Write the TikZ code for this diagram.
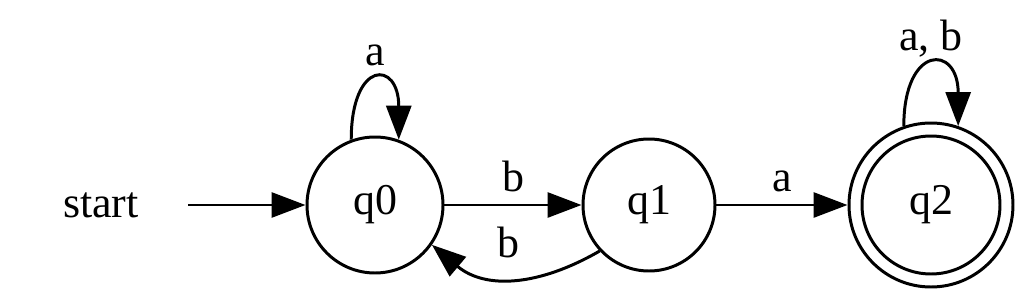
\documentclass[tikz,border=0pt]{standalone}
\usepackage{fontspec}
\setmainfont{Liberation Serif}
\usetikzlibrary{arrows.meta,positioning}

\begin{document}
\begin{tikzpicture}[
  every node/.style={font=\fontsize{25}{30}\selectfont},
  state/.style={circle,draw,line width=1.7pt,minimum size=2.72cm,inner sep=0pt},
  trans/.style={line width=1.7pt,-{Triangle[length=0.68cm,width=0.5cm]}},
  lbl/.style={anchor=base,yshift=0.28cm}
]
\useasboundingbox (0,0) rectangle (20.48,5.94);
\node (start) at (2.02,1.84) {start};
\coordinate (entry) at (3.76,1.84);
\node[state] (q0) at (7.5,1.84) {q0};
\node[state,minimum size=2.64cm] (q1) at (12.98,1.84) {q1};
\node[state,minimum size=3.28cm] (q2) at (18.62,1.84) {};
\node[state,minimum size=2.76cm] (q2in) at (q2) {q2};
% transitions
\draw[trans] (entry) -- (q0);
\draw[trans] (q0) -- node[lbl] {b} (q1);
\draw[trans] (q1.223) .. controls +(210:1.4) and +(-40:1.4) .. node[lbl,yshift=0.12cm,xshift=-0.1cm] {b} (q0.-35);
\draw[trans] (q1) -- node[lbl] {a} (q2);
\draw[trans] (q0.110) .. controls +(90:1.6) and +(90:1.6) .. node[lbl] {a} (q0.70);
\draw[trans] (q2.109) .. controls +(90:1.64) and +(90:1.64) .. node[lbl] {a, b} (q2.71);
\end{tikzpicture}
\end{document}
